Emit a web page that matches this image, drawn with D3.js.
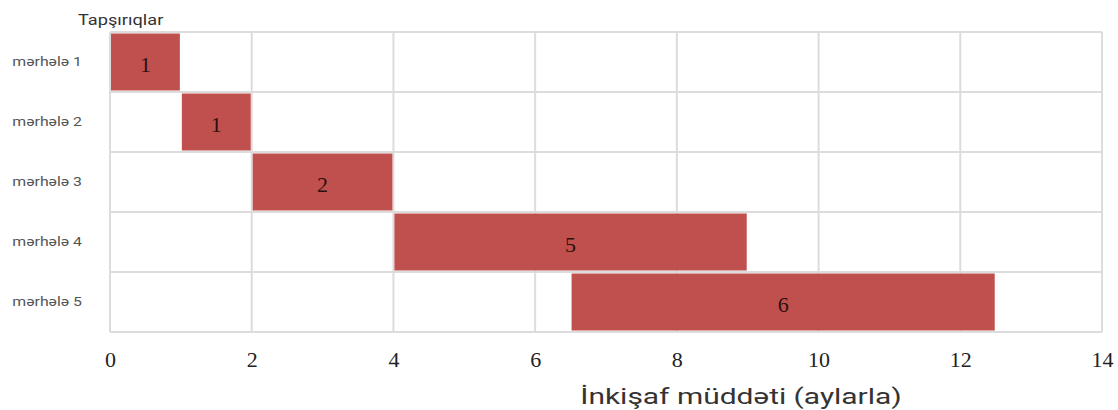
<!DOCTYPE html>
<html><head><meta charset="utf-8">
<script src="https://cdn.jsdelivr.net/npm/d3@7"></script>
<style>body{margin:0;background:#fff}svg{display:block}</style>
</head><body>
<svg id="c" width="1118" height="410"></svg>
<script>
const stages = ["mərhələ 1","mərhələ 2","mərhələ 3","mərhələ 4","mərhələ 5"];
const starts = [0, 1, 2, 4, 6.5];
const durations = [1, 1, 2, 5, 6];
const xTicks = [0, 2, 4, 6, 8, 10, 12, 14];
const yTitle = "Tapşırıqlar";
const xTitle = "İnkişaf müddəti (aylarla)";

const svg = d3.select("#c");
const m = {left:110, right:1102, top:32, bottom:332};
const x = d3.scaleLinear().domain([0,14]).range([m.left, m.right]);
const y = d3.scaleBand().domain(stages).range([m.top, m.bottom]).padding(0);

const grid = svg.append("g").attr("stroke","#dcdcdc").attr("stroke-width",2);
grid.selectAll("line.v").data(xTicks).join("line")
  .attr("x1",d=>x(d)).attr("x2",d=>x(d)).attr("y1",m.top).attr("y2",m.bottom);
const hb = stages.map(s=>y(s)).concat([m.bottom]);
grid.selectAll("line.h").data(hb).join("line")
  .attr("x1",m.left).attr("x2",m.right).attr("y1",d=>d).attr("y2",d=>d);

const data = stages.map((s,i)=>({s, start:starts[i], dur:durations[i]}));
svg.append("g").selectAll("rect").data(data).join("rect")
  .attr("x",d=>x(d.start)+1)
  .attr("y",d=>y(d.s)+1.5)
  .attr("width",d=>x(d.start+d.dur)-x(d.start)-2)
  .attr("height",y.bandwidth()-3)
  .attr("fill","#c0504d");

svg.append("g").selectAll("text").data(data).join("text")
  .attr("x",d=>x(d.start+d.dur/2))
  .attr("y",d=>y(d.s)+y.bandwidth()/2)
  .attr("dy","0.45em")
  .attr("text-anchor","middle")
  .attr("font-family","'Liberation Serif', 'DejaVu Serif', serif")
  .attr("font-size",22)
  .attr("fill","#2a1010")
  .text(d=>d.dur);

const xAxis = d3.axisBottom(x).tickValues(xTicks).tickSize(0).tickPadding(0).tickFormat(d3.format("d"));
const gx = svg.append("g").attr("transform",`translate(0,${m.bottom})`).call(xAxis);
gx.select(".domain").remove();
gx.selectAll("text").attr("font-family","'Liberation Serif', serif").attr("font-size",22)
  .attr("fill","#222").attr("dy",0).attr("y",35);

const yAxis = d3.axisLeft(y).tickSize(0).tickPadding(0);
const gy = svg.append("g").attr("transform",`translate(82,0)`).call(yAxis);
gy.select(".domain").remove();
gy.selectAll("text").attr("font-family","Roboto, sans-serif").attr("font-size",12)
  .attr("fill","#555").attr("text-anchor","end").attr("x",0)
  .attr("transform","scale(1.32,1)");

svg.append("text").attr("transform","translate(78,25) scale(1.3,1)")
  .attr("font-family","Roboto, sans-serif").attr("font-size",14).attr("fill","#333")
  .text(yTitle);

svg.append("text").attr("transform","translate(741,404) scale(1.36,1)")
  .attr("text-anchor","middle")
  .attr("font-family","Roboto, sans-serif").attr("font-size",22).attr("fill","#333")
  .text(xTitle);
</script>
</body></html>
